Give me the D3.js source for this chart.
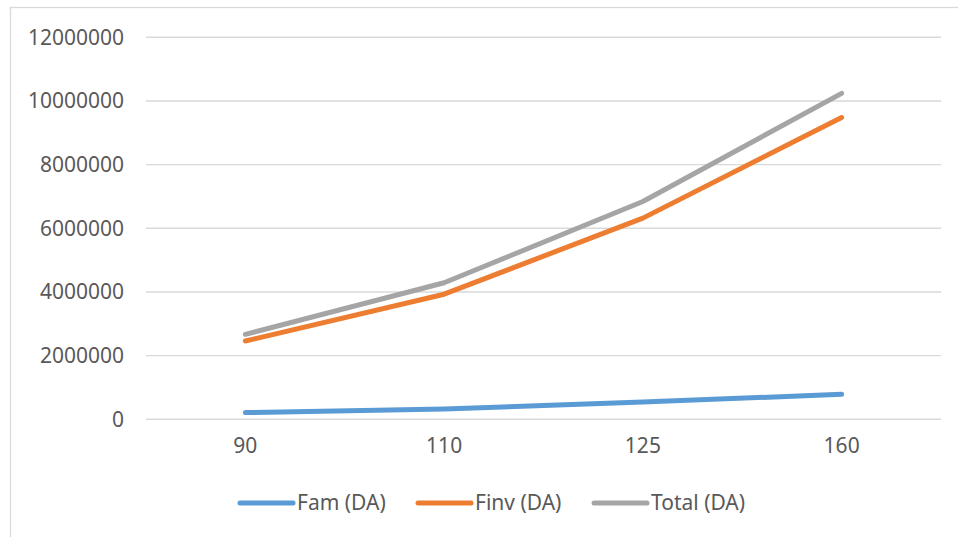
<!DOCTYPE html>
<html>
<head>
<meta charset="utf-8">
<script src="https://cdn.jsdelivr.net/npm/d3@7"></script>
<style>
  html, body { margin: 0; padding: 0; background: #fff; }
  svg text { font-family: "Noto Sans", "Open Sans", "Liberation Sans", sans-serif; fill: #595959; }
</style>
</head>
<body>
<svg id="chart" width="958" height="537"></svg>
<script>
// Category labels along the x axis
const categories = ["90", "110", "125", "160"];
// Series values (DA)
const famValues = [210000, 320000, 540000, 785000];
const finvValues = [2460000, 3930000, 6320000, 9480000];
const totalValues = [2670000, 4290000, 6840000, 10240000];
// Value axis ticks
const yTicks = [0, 2000000, 4000000, 6000000, 8000000, 10000000, 12000000];

const seriesNames = ["Fam (DA)", "Finv (DA)", "Total (DA)"];
const seriesColors = ["#5B9BD5", "#ED7D31", "#A5A5A5"];
const seriesValues = [famValues, finvValues, totalValues];

const svg = d3.select("#chart");
const W = 958, H = 537;

// Chart frame
svg.append("rect")
  .attr("x", 10.5).attr("y", 7.5)
  .attr("width", W + 10).attr("height", H + 10)
  .attr("fill", "#fff").attr("stroke", "#D9D9D9").attr("stroke-width", 1.3);

const plot = { left: 146, right: 941, top: 37.3, bottom: 419.3 };

const x = d3.scaleBand().domain(categories).range([plot.left, plot.right]);
const y = d3.scaleLinear().domain([0, 12000000]).range([plot.bottom, plot.top]);

// Horizontal gridlines
svg.append("g")
  .selectAll("line")
  .data(yTicks)
  .join("line")
  .attr("x1", plot.left).attr("x2", plot.right)
  .attr("y1", d => y(d)).attr("y2", d => y(d))
  .attr("stroke", "#D9D9D9").attr("stroke-width", 1.4);

// Value axis labels
const yAxis = d3.axisLeft(y).tickValues(yTicks).tickSize(0).tickPadding(0)
  .tickFormat(d3.format("d"));
const yg = svg.append("g").attr("transform", `translate(124,0)`).call(yAxis);
yg.select(".domain").remove();
yg.selectAll("text")
  .attr("font-size", 21).attr("fill", "#595959")
  .style("font-family", '"Noto Sans", "Open Sans", sans-serif');

// Category axis labels
const xAxis = d3.axisBottom(x).tickSize(0).tickPadding(0);
const xg = svg.append("g").attr("transform", `translate(0,438)`).call(xAxis);
xg.select(".domain").remove();
xg.selectAll("text")
  .attr("font-size", 21).attr("fill", "#595959")
  .style("font-family", '"Noto Sans", "Open Sans", sans-serif');

// Series lines
const line = d3.line()
  .x((d, i) => x(categories[i]) + x.bandwidth() / 2)
  .y(d => y(d));

svg.append("g")
  .selectAll("path")
  .data(seriesValues)
  .join("path")
  .attr("d", d => line(d))
  .attr("fill", "none")
  .attr("stroke", (d, i) => seriesColors[i])
  .attr("stroke-width", 5)
  .attr("stroke-linecap", "round")
  .attr("stroke-linejoin", "round");

// Legend
const legendX = [238, 416, 592];
const legend = svg.append("g")
  .selectAll("g")
  .data(seriesNames)
  .join("g")
  .attr("transform", (d, i) => `translate(${legendX[i]},503)`);
legend.append("line")
  .attr("x1", 2).attr("x2", 55).attr("y1", 0).attr("y2", 0)
  .attr("stroke", (d, i) => seriesColors[i])
  .attr("stroke-width", 5).attr("stroke-linecap", "round");
legend.append("text")
  .attr("x", 59).attr("y", 0).attr("dy", "0.35em")
  .attr("font-size", 21)
  .text(d => d);
</script>
</body>
</html>
